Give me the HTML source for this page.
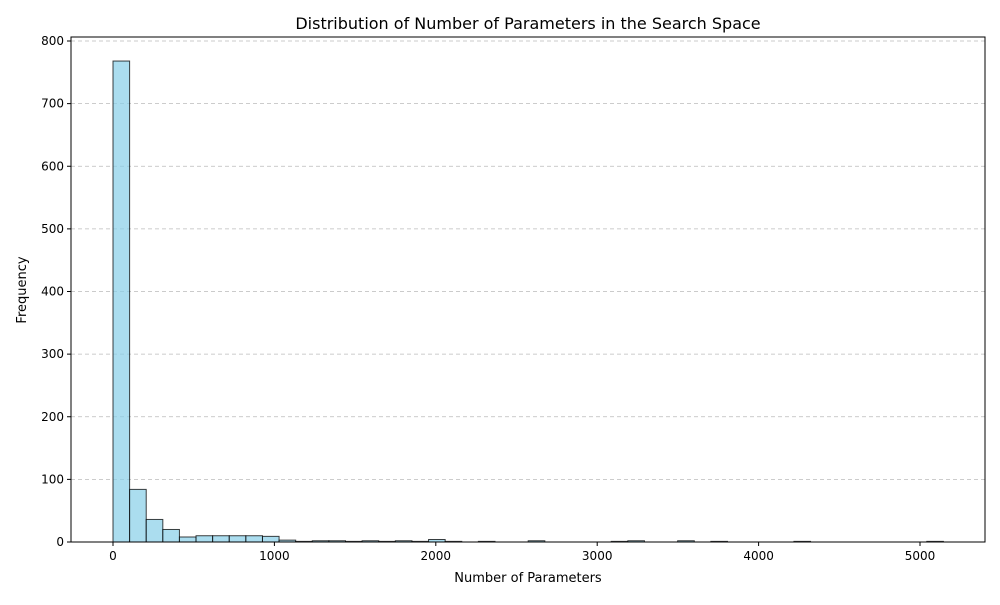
<!DOCTYPE html>
<html><head><meta charset="utf-8"><style>
body{margin:0;background:#fff;width:1000px;height:600px;overflow:hidden}
text{font-family:"DejaVu Sans","Liberation Sans",sans-serif;fill:#000}
</style></head><body>
<svg id="chart" width="1000" height="600" xmlns="http://www.w3.org/2000/svg">
<text x="528" y="29" font-size="16" text-anchor="middle">Distribution of Number of Parameters in the Search Space</text>
<g id="grid"></g><g id="bars"></g><g id="axes"></g>
<text x="528" y="582" font-size="13" text-anchor="middle">Number of Parameters</text>
<text transform="translate(26,290) rotate(-90)" font-size="13" text-anchor="middle">Frequency</text>
</svg>
<script>
const binCounts = [768,84,36,20,8,10,10,10,10,9,3,1,2,2,1,2,1,2,1,4,1,0,1,0,0,2,0,0,0,0,1,2,0,0,2,0,1,0,0,0,0,1,0,0,0,0,0,0,0,1];
const binStart = 0;
const binEnd = 5145;
const xTicks = [0,1000,2000,3000,4000,5000];
const yTicks = [0,100,200,300,400,500,600,700,800];
const L=71,R=985,T=37,B=542;
const xs=v=>113+(v)*(920-113)/5000;
const ys=v=>542-v*(542-41)/800;
const NS="http://www.w3.org/2000/svg";
function mk(tag,attrs,parent){const e=document.createElementNS(NS,tag);for(const k in attrs)e.setAttribute(k,attrs[k]);parent.appendChild(e);return e;}
const grid=document.getElementById('grid'),bars=document.getElementById('bars'),axes=document.getElementById('axes');
yTicks.forEach(t=>{
 const g=mk('line',{x1:L,x2:R,y1:ys(t),y2:ys(t),stroke:'#bbb','stroke-dasharray':'4,3','stroke-width':0.8},grid);
 
 
 const tk=mk('line',{x1:L-4,x2:L,y1:ys(t),y2:ys(t),stroke:'#000'},axes);
 
 
 const lb=mk('text',{x:L-7,y:ys(t)+4,'font-size':12,'text-anchor':'end'},axes);lb.textContent=t;
 
 
});
const bw=(binEnd-binStart)/binCounts.length;
binCounts.forEach((c,i)=>{
 const x0=xs(binStart+i*bw),x1=xs(binStart+(i+1)*bw);
 const r=mk('rect',{x:x0,y:ys(c),width:x1-x0,height:ys(0)-ys(c),fill:'#87cee8','fill-opacity':0.7,stroke:'#000','stroke-opacity':0.75,'stroke-width':1},bars);
 
 
});
xTicks.forEach(t=>{
 const tk=mk('line',{x1:xs(t),x2:xs(t),y1:B,y2:B+4,stroke:'#000'},axes);
 
 
 const lb=mk('text',{x:xs(t),y:B+18,'font-size':12,'text-anchor':'middle'},axes);lb.textContent=t;
 
 
});
const fr=mk('rect',{x:L,y:T,width:R-L,height:B-T,fill:'none',stroke:'#000','stroke-width':1},axes);


</script>
</body></html>
